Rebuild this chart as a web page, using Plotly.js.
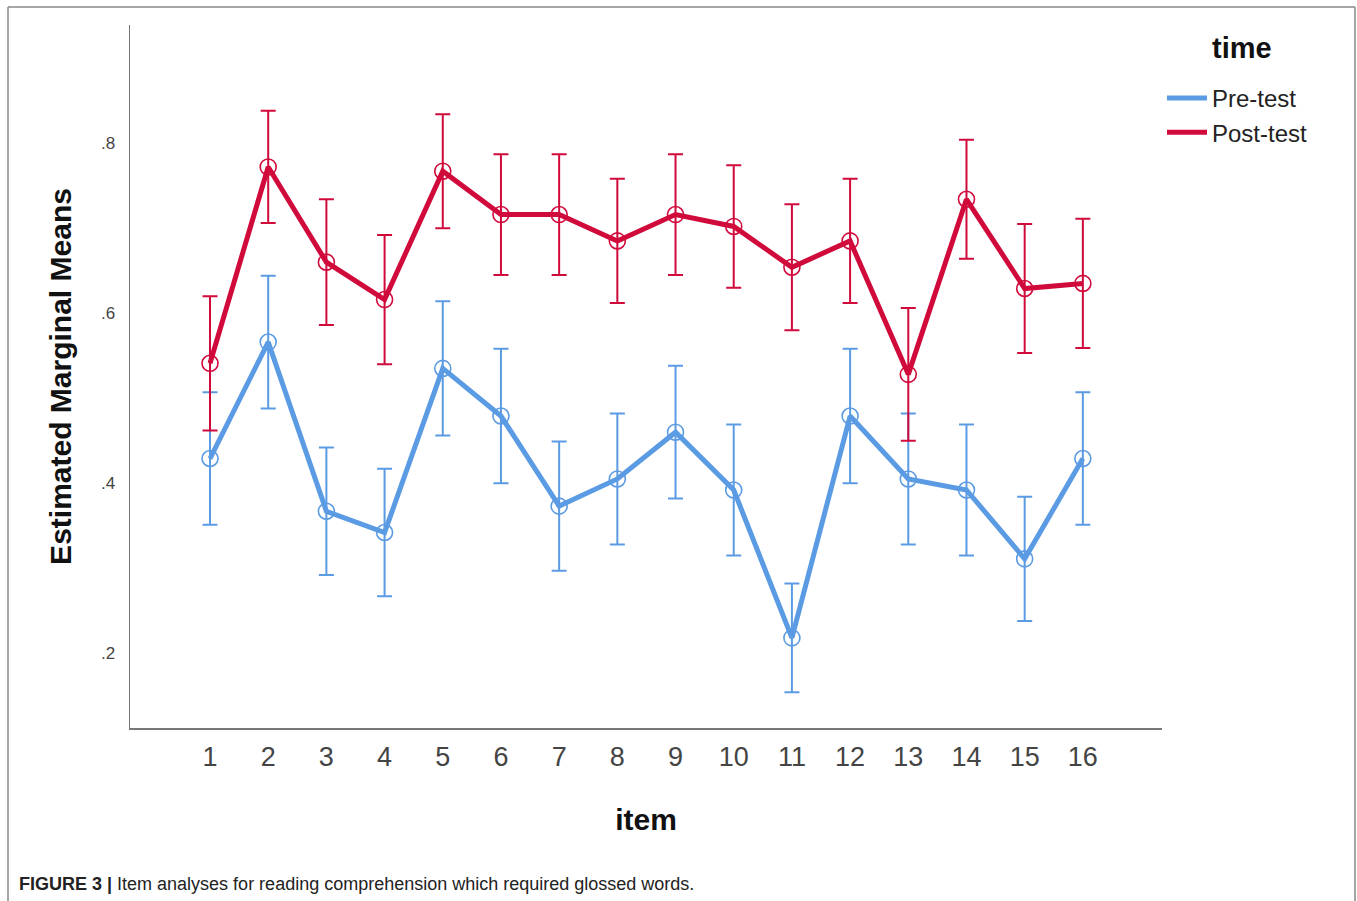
<!DOCTYPE html>
<html>
<head>
<meta charset="utf-8">
<script src="https://cdn.plot.ly/plotly-3.0.1.min.js"></script>
<style>html,body{margin:0;padding:0;background:#fff;}#chart{width:1357px;height:901px;}</style>
</head>
<body>
<div id="chart"></div>
<script>
const items = [1,2,3,4,5,6,7,8,9,10,11,12,13,14,15,16];
const preMeans  = [0.429,0.566,0.367,0.342,0.535,0.479,0.373,0.405,0.460,0.392,0.218,0.479,0.405,0.392,0.311,0.429];
const preErr    = [0.078,0.078,0.075,0.075,0.079,0.079,0.076,0.077,0.078,0.077,0.064,0.079,0.077,0.077,0.073,0.078];
const postMeans = [0.541,0.772,0.660,0.616,0.767,0.716,0.716,0.685,0.716,0.702,0.654,0.685,0.528,0.734,0.629,0.635];
const postErr   = [0.079,0.066,0.074,0.076,0.067,0.071,0.071,0.073,0.071,0.072,0.074,0.073,0.078,0.070,0.076,0.076];
const seriesNames = ['Pre-test','Post-test'];
const yTickVals = [0.2,0.4,0.6,0.8];
const yTickText = ['.2','.4','.6','.8'];

const blue = '#5b9be3';
const red = '#d10a3c';

function meanTrace(y, err, color) {
  return {
    x: items, y: y, type: 'scatter', mode: 'lines+markers', showlegend: false,
    line: {color: color, width: 5},
    marker: {symbol: 'circle-open', size: 16, color: color, line: {width: 1.6, color: color}},
    error_y: {type: 'data', array: err, visible: true, color: color, thickness: 2, width: 7.5},
    cliponaxis: false
  };
}
function legendTrace(name, color) {
  return {x: [null], y: [null], type: 'scatter', mode: 'lines', name: name,
          line: {color: color, width: 5}, showlegend: true};
}

const data = [
  meanTrace(preMeans, preErr, blue),
  meanTrace(postMeans, postErr, red),
  legendTrace(seriesNames[0], blue),
  legendTrace(seriesNames[1], red)
];

// geometry helpers (paper coords from pixel positions)
const L = 130, R = 1162, T = 25, B = 728;
const px = x => (x - L) / (R - L);
const py = y => (B - y) / (B - T);

const layout = {
  width: 1357, height: 901,
  margin: {l: L, r: 1357 - R, t: T, b: 901 - B, pad: 0},
  paper_bgcolor: '#ffffff', plot_bgcolor: '#ffffff',
  font: {family: 'Liberation Sans, Arial, sans-serif', color: '#222'},
  xaxis: {
    range: [-0.375, 17.36], tickvals: items, ticktext: items.map(String),
    showgrid: false, zeroline: false, showline: true, linecolor: '#777', linewidth: 1.5,
    ticks: '', ticklabelstandoff: 4,
    tickfont: {size: 27, color: '#444', family: 'Liberation Sans, Arial, sans-serif'},
    title: {text: '<b>item</b>', font: {size: 30, color: '#111'}, standoff: 38}
  },
  yaxis: {
    range: [0.112, 0.939], tickvals: yTickVals, ticktext: yTickText,
    showgrid: false, zeroline: false, showline: true, linecolor: '#777', linewidth: 1.5,
    ticks: '', ticklabelstandoff: 10,
    tickfont: {size: 17, color: '#444'},
    title: {text: '<b>Estimated Marginal Means</b>', font: {size: 30, color: '#111'}, standoff: 20}
  },
  legend: {
    x: 1.0, y: py(76), xanchor: 'left', yanchor: 'top',
    font: {size: 24, color: '#222'},
    bgcolor: 'rgba(0,0,0,0)', tracegroupgap: 0, itemwidth: 40
  },
  shapes: [
    {type: 'line', xref: 'paper', yref: 'paper', x0: px(8), x1: px(8), y0: py(7), y1: py(905), line: {color: '#888', width: 1.5}},
    {type: 'line', xref: 'paper', yref: 'paper', x0: px(8), x1: px(1355), y0: py(7), y1: py(7), line: {color: '#888', width: 1.5}},
    {type: 'line', xref: 'paper', yref: 'paper', x0: px(1355), x1: px(1355), y0: py(7), y1: py(905), line: {color: '#888', width: 1.5}}
  ],
  annotations: [
    {xref: 'paper', yref: 'paper', x: px(1242), y: py(48), xanchor: 'center', yanchor: 'middle',
     text: '<b>time</b>', showarrow: false, font: {size: 29, color: '#111'}},
    {xref: 'paper', yref: 'paper', x: px(17), y: py(884), xanchor: 'left', yanchor: 'middle',
     text: '<b>FIGURE 3 |</b> Item analyses for reading comprehension which required glossed words.',
     showarrow: false, font: {size: 18, color: '#222', family: 'Liberation Sans, Arial, sans-serif'}}
  ]
};

Plotly.newPlot('chart', data, layout, {displayModeBar: false, staticPlot: true});
</script>
</body>
</html>
